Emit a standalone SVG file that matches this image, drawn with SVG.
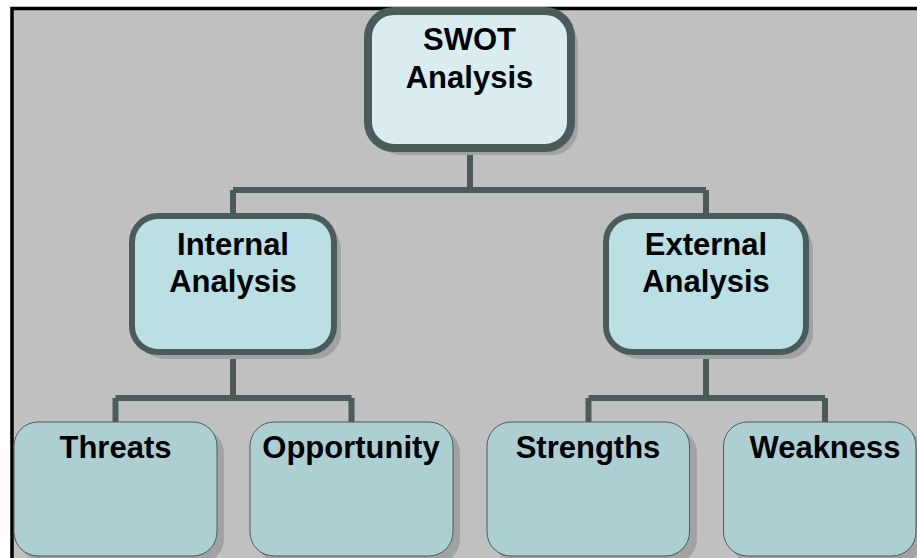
<svg xmlns="http://www.w3.org/2000/svg" width="917" height="558" viewBox="0 0 917 558">
<style>
.t{font-family:"Liberation Sans",Arial,sans-serif;font-weight:bold;font-size:31px;fill:#000;text-anchor:middle}
.sh{fill:#a2a2a2}
.top{fill:#d9edf0;stroke:#4b5a5a;stroke-width:8}
.mid{fill:#bae0e4;stroke:#4b5a5a;stroke-width:6}
.bot{fill:#aecfd2;stroke:#4b5a5a;stroke-width:1}
.c{fill:none;stroke:#4b5a5a;stroke-width:6}
</style>
<rect x="0" y="0" width="917" height="558" fill="#ffffff"/>
<rect x="12" y="8.5" width="920" height="570" fill="#c0c0c0" stroke="#000" stroke-width="3.5"/>
<g id="connectors">
<path class="c" d="M470 150 V190 M233 190 H706 M233 190 V216 M706 190 V216"/>
<path class="c" d="M233 352 V398 M115.5 398 H351.5 M115.5 398 V422 M351.5 398 V422"/>
<path class="c" d="M706 352 V398 M588.5 398 H825 M588.5 398 V422 M825 398 V422"/>
</g>
<g id="swot">
<rect class="sh" x="375" y="18" width="203" height="137" rx="26"/>
<rect class="top" x="368" y="11" width="203" height="137" rx="26"/>
<text class="t" x="469.5" y="50">SWOT</text>
<text class="t" x="469.5" y="88">Analysis</text>
</g>
<g id="internal">
<rect class="sh" x="139" y="223" width="202" height="136" rx="26"/>
<rect class="mid" x="132" y="216" width="202" height="136" rx="26"/>
<text class="t" x="233" y="255">Internal</text>
<text class="t" x="233" y="292">Analysis</text>
</g>
<g id="external">
<rect class="sh" x="613" y="223" width="200" height="136" rx="26"/>
<rect class="mid" x="606" y="216" width="200" height="136" rx="26"/>
<text class="t" x="706" y="255">External</text>
<text class="t" x="706" y="292">Analysis</text>
</g>
<g id="threats">
<rect class="sh" x="21" y="429" width="203" height="134" rx="24"/>
<rect class="bot" x="14" y="422" width="203" height="134" rx="24"/>
<text class="t" x="115.5" y="458">Threats</text>
</g>
<g id="opportunity">
<rect class="sh" x="257" y="429" width="203" height="134" rx="24"/>
<rect class="bot" x="250" y="422" width="203" height="134" rx="24"/>
<text class="t" x="351" y="458">Opportunity</text>
</g>
<g id="strengths">
<rect class="sh" x="494" y="429" width="203" height="134" rx="24"/>
<rect class="bot" x="487" y="422" width="202.5" height="134" rx="24"/>
<text class="t" x="588" y="458">Strengths</text>
</g>
<g id="weakness">
<rect class="sh" x="730" y="429" width="193" height="134" rx="24"/>
<rect class="bot" x="723.5" y="422" width="192.5" height="134" rx="24"/>
<text class="t" x="825" y="458">Weakness</text>
</g>
</svg>
